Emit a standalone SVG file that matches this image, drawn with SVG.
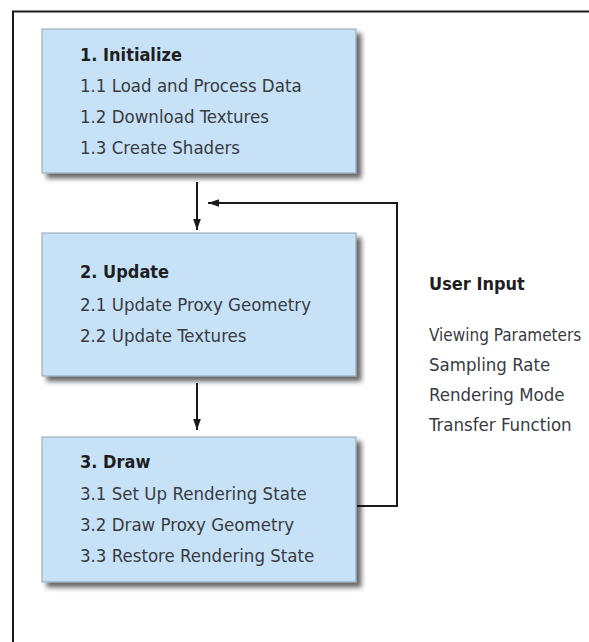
<svg xmlns="http://www.w3.org/2000/svg" width="589" height="642" viewBox="0 0 589 642">
  <style>
    .box { fill: #c7e2f7; stroke: #8fa3b3; stroke-width: 1; }
    .title { font-family: "DejaVu Sans Condensed", "DejaVu Sans", sans-serif; font-size: 18px; font-weight: bold; fill: #1e1e1e; }
    .item { font-family: "DejaVu Sans Condensed", "DejaVu Sans", sans-serif; font-size: 18.5px; fill: #383b3f; }
    .wire { fill: none; stroke: #1a1a1a; stroke-width: 2; }
    .frame { fill: none; stroke: #1a1a1a; stroke-width: 2; }
  </style>
  <defs>
    <filter id="shadow" x="-10%" y="-10%" width="125%" height="130%">
      <feGaussianBlur in="SourceAlpha" stdDeviation="2.5"/>
      <feOffset dx="5" dy="5" result="blur"/>
      <feComponentTransfer><feFuncA type="linear" slope="0.6"/></feComponentTransfer>
      <feMerge><feMergeNode/><feMergeNode in="SourceGraphic"/></feMerge>
    </filter>
    <marker id="arrow" viewBox="0 0 10 10" refX="10" refY="5" markerWidth="5.5" markerHeight="5.5" orient="auto" markerUnits="strokeWidth">
      <path d="M0,1.5 L10,5 L0,8.5 z" fill="#1a1a1a"/>
    </marker>
  </defs>

  <rect width="589" height="642" fill="#ffffff"/>

  <!-- page frame: top and left rules -->
  <path class="frame" d="M13,642 V11.5 H589"/>

  <g id="initialize">
    <rect class="box" x="42" y="29" width="314" height="144" filter="url(#shadow)"/>
    <text class="title" x="80" y="61">1. Initialize</text>
    <text class="item" x="80" y="92">1.1 Load and Process Data</text>
    <text class="item" x="80" y="123">1.2 Download Textures</text>
    <text class="item" x="80" y="154">1.3 Create Shaders</text>
  </g>

  <g id="update">
    <rect class="box" x="42" y="233" width="314" height="143" filter="url(#shadow)"/>
    <text class="title" x="80" y="278">2. Update</text>
    <text class="item" x="80" y="311">2.1 Update Proxy Geometry</text>
    <text class="item" x="80" y="342">2.2 Update Textures</text>
  </g>

  <g id="draw">
    <rect class="box" x="42" y="437" width="314" height="145" filter="url(#shadow)"/>
    <text class="title" x="80" y="468">3. Draw</text>
    <text class="item" x="80" y="500">3.1 Set Up Rendering State</text>
    <text class="item" x="80" y="531">3.2 Draw Proxy Geometry</text>
    <text class="item" x="80" y="562">3.3 Restore Rendering State</text>
  </g>

  <g id="user-input">
    <text class="title" x="429" y="290">User Input</text>
    <text class="item" x="429" y="341" style="font-size:17px">Viewing Parameters</text>
    <text class="item" x="429" y="371">Sampling Rate</text>
    <text class="item" x="429" y="401">Rendering Mode</text>
    <text class="item" x="429" y="431">Transfer Function</text>
  </g>

  <g id="connectors">
    <line class="wire" x1="197" y1="182" x2="197" y2="230" marker-end="url(#arrow)"/>
    <line class="wire" x1="197" y1="383" x2="197" y2="430" marker-end="url(#arrow)"/>
    <path class="wire" d="M357,506 H397 V203 H208" marker-end="url(#arrow)"/>
  </g>
</svg>
